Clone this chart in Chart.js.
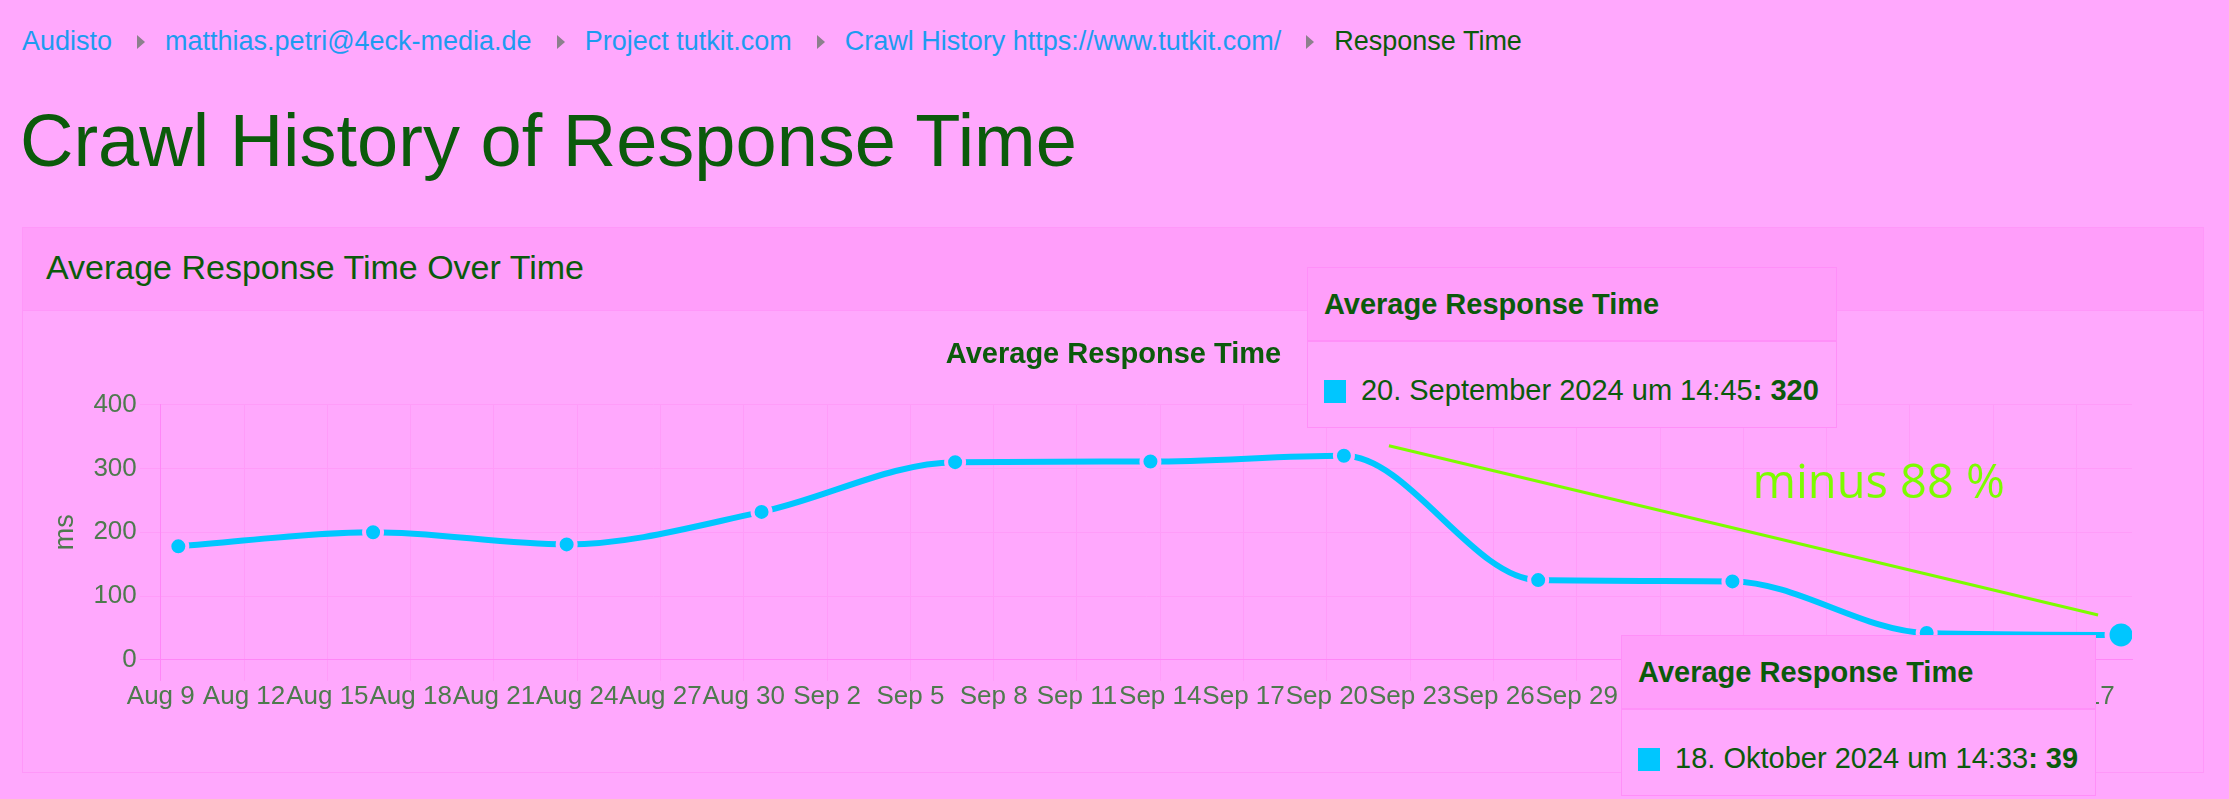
<!DOCTYPE html>
<html lang="de">
<head>
  <meta charset="UTF-8">
  <title>Crawl History of Response Time</title>
  <style>
* {
  margin: 0;
  padding: 0;
  box-sizing: border-box;
}
body {
  position: relative;
  width: 2229px;
  height: 799px;
  overflow: hidden;
  background: #ffa8fd;
  font-family: "Liberation Sans", Arial, sans-serif;
  color: #0b5a0b;
}
.breadcrumb {
  position: absolute;
  left: 22px;
  top: 26px;
  font-size: 27px;
  line-height: 30px;
  white-space: nowrap;
}
.breadcrumb a {
  color: #1d9bf0;
  text-decoration: none;
}
.breadcrumb .sep {
  display: inline-block;
  width: 0;
  height: 0;
  border-top: 7px solid transparent;
  border-bottom: 7px solid transparent;
  border-left: 8px solid #8c808c;
  margin: 0 20px 0 25px;
  vertical-align: 1px;
}
h1 {
  position: absolute;
  left: 20px;
  top: 101px;
  font-size: 74px;
  line-height: 80px;
  font-weight: normal;
}
.card {
  position: absolute;
  left: 22px;
  top: 227px;
  width: 2182px;
  height: 546px;
  border: 1px solid #ff97f9;
}
.card-header {
  height: 83px;
  line-height: 79px;
  padding-left: 23px;
  font-size: 34px;
  background: #ff9efa;
  border-bottom: 1px solid #ff97f9;
}
.chart-box {
  position: absolute;
  left: 23px;
  top: 97px;
  width: 2135px;
  height: 387px;
}
.tip {
  position: absolute;
  border: 1px solid #ff8ff8;
  background: #ffa8fd;
  white-space: nowrap;
}
.tip-head {
  height: 74px;
  line-height: 73px;
  padding: 0 17px 0 16px;
  background: #ff9efa;
  border-bottom: 2px solid #ff90f8;
  font-weight: bold;
  font-size: 29px;
}
.tip-body {
  padding: 31px 17px 20px 16px;
  line-height: 34px;
  font-size: 29px;
}
.tip-body i {
  display: inline-block;
  width: 22px;
  height: 23px;
  background: #00c6ff;
  margin-right: 15px;
  vertical-align: -3px;
}
  </style>
</head>
<body>
  <div class="breadcrumb"><a href="#">Audisto</a><span class="sep"></span><a href="#">matthias.petri@4eck-media.de</a><span class="sep"></span><a href="#">Project tutkit.com</a><span class="sep"></span><a href="#">Crawl History https://www.tutkit.com/</a><span class="sep"></span><span>Response Time</span></div>
  <h1>Crawl History of Response Time</h1>
  <div class="card">
    <div class="card-header">Average Response Time Over Time</div>
    <div class="chart-box">
      <canvas id="responseChart"></canvas>
    </div>
  </div>

  <script src="https://cdn.jsdelivr.net/npm/chart.js@4/dist/chart.umd.min.js"></script>
  <script>
    // crawl dates (UTC) and average response time in ms
    const crawlTimes = ['2024-08-09T15:10', '2024-08-16T15:30', '2024-08-23T14:50', '2024-08-30T15:20',
                        '2024-09-06T14:40', '2024-09-13T15:30', '2024-09-20T14:45', '2024-09-27T14:40',
                        '2024-10-04T14:35', '2024-10-11T14:30', '2024-10-18T14:33'];
    const avgResponse = [178, 200, 181, 232, 310, 311, 320, 125, 123, 42, 39];
    const axisStart = '2024-08-09T00:00';
    const axisEnd = '2024-10-19T00:00';
    const tickStepDays = 3;
    const yMax = 400;
    const yStep = 100;
    const shownTips = [6, 10];
    const peakIdx = 6;
    const lastIdx = avgResponse.length - 1;

    const monthsEn = ['Jan', 'Feb', 'Mar', 'Apr', 'May', 'Jun', 'Jul', 'Aug', 'Sep', 'Oct', 'Nov', 'Dec'];
    const monthsDe = ['Januar', 'Februar', 'März', 'April', 'Mai', 'Juni', 'Juli', 'August', 'September', 'Oktober', 'November', 'Dezember'];

    const lineColor = '#00c6ff';
    const textColor = '#0b5a0b';
    const tickColor = '#4e7a4e';
    const gridColor = '#ff9cf9';
    const zeroColor = '#ff86f7';
    const bgColor = '#ffa8fd';
    const noteColor = '#7cfc00';

    const DAY = 864e5;
    const startMs = Date.parse(axisStart + 'Z');
    function dayOffset(s) {
      return (Date.parse(s + 'Z') - startMs) / DAY;
    }
    function pad(n) {
      return n < 10 ? '0' + n : '' + n;
    }
    function germanDate(s) {
      let d = new Date(Date.parse(s + 'Z'));
      return d.getUTCDate() + '. ' + monthsDe[d.getUTCMonth()] + ' ' + d.getUTCFullYear() +
        ' um ' + pad(d.getUTCHours()) + ':' + pad(d.getUTCMinutes());
    }

    let points = crawlTimes.map((t, i) => ({ x: dayOffset(t), y: avgResponse[i] }));

    // green "minus xx %" note between the peak and the last crawl
    const dropNote = {
      id: 'dropNote',
      afterDatasetsDraw(chart) {
        let pts = chart.getDatasetMeta(0).data;
        let a = pts[peakIdx], b = pts[lastIdx];
        let x1 = a.x + 45, y1 = a.y - 10;
        let x2 = b.x - 23, y2 = b.y - 20;
        let c = chart.ctx;
        c.save();
        c.strokeStyle = noteColor;
        c.lineWidth = 3;
        c.beginPath();
        c.moveTo(x1, y1);
        c.lineTo(x2, y2);
        c.stroke();
        let pct = Math.round((1 - avgResponse[lastIdx] / avgResponse[peakIdx]) * 100);
        c.fillStyle = noteColor;
        c.font = '47px "Open Sans"';
        c.textBaseline = 'alphabetic';
        c.fillText('minus ' + pct + ' %', (x1 + x2) / 2 + 9, (y1 + y2) / 2 - 32);
        c.restore();
      }
    };

    let tickFont = { family: '"Liberation Sans", Arial, sans-serif', size: 26 };

    let chart = new Chart(document.getElementById('responseChart'), {
      type: 'line',
      data: {
        datasets: [{
          label: 'Average Response Time',
          data: points,
          borderColor: lineColor,
          borderWidth: 6,
          cubicInterpolationMode: 'monotone',
          fill: false,
          pointBackgroundColor: lineColor,
          pointBorderColor: bgColor,
          pointRadius: c => c.dataIndex === lastIdx ? 14 : 9,
          pointBorderWidth: c => c.dataIndex === lastIdx ? 5 : 4
        }]
      },
      options: {
        responsive: true,
        maintainAspectRatio: false,
        animation: false,
        plugins: {
          legend: { display: false },
          tooltip: { enabled: false },
          title: {
            display: true,
            text: 'Average Response Time',
            color: textColor,
            font: { family: tickFont.family, size: 29, weight: 'bold' },
            padding: { top: 13, bottom: 32 }
          }
        },
        scales: {
          x: {
            type: 'linear',
            min: 0,
            max: dayOffset(axisEnd),
            // leave some room right of the plot, title stays centred
            afterFit: s => { s.paddingRight = 49; },
            ticks: {
              stepSize: tickStepDays,
              includeBounds: false,
              autoSkip: false,
              maxRotation: 0,
              padding: 0,
              color: tickColor,
              font: tickFont,
              callback: v => {
                let d = new Date(startMs + v * DAY);
                return monthsEn[d.getUTCMonth()] + ' ' + d.getUTCDate();
              }
            },
            grid: {
              color: c => c.index === 0 ? zeroColor : gridColor,
              tickLength: 21
            },
            border: { color: zeroColor }
          },
          y: {
            min: 0,
            max: yMax,
            ticks: { stepSize: yStep, padding: 3, color: tickColor, font: tickFont },
            grid: {
              color: c => c.tick && c.tick.value === 0 ? zeroColor : gridColor,
              tickLength: 21
            },
            border: { color: zeroColor },
            title: {
              display: true,
              text: 'ms',
              color: tickColor,
              font: { family: tickFont.family, size: 27 },
              padding: { top: 3, bottom: 9 }
            }
          }
        }
      },
      plugins: [dropNote]
    });

    // two pinned tooltips, placed from the point positions
    let canvasRect = chart.canvas.getBoundingClientRect();
    let meta = chart.getDatasetMeta(0).data;
    shownTips.forEach(i => {
      let tip = document.createElement('div');
      tip.className = 'tip';
      tip.innerHTML = '<div class="tip-head">' + chart.data.datasets[0].label + '</div>' +
        '<div class="tip-body"><i></i>' + germanDate(crawlTimes[i]) + '<b>: ' + avgResponse[i] + '</b></div>';
      document.body.appendChild(tip);
      let px = canvasRect.left + meta[i].x;
      let py = canvasRect.top + meta[i].y;
      if (i === lastIdx) {
        tip.style.left = (px - 25 - tip.offsetWidth) + 'px';
        tip.style.top = py + 'px';
      } else {
        tip.style.left = (px - 37) + 'px';
        tip.style.top = (py - 28 - tip.offsetHeight) + 'px';
      }
    });
  </script>
</body>
</html>
